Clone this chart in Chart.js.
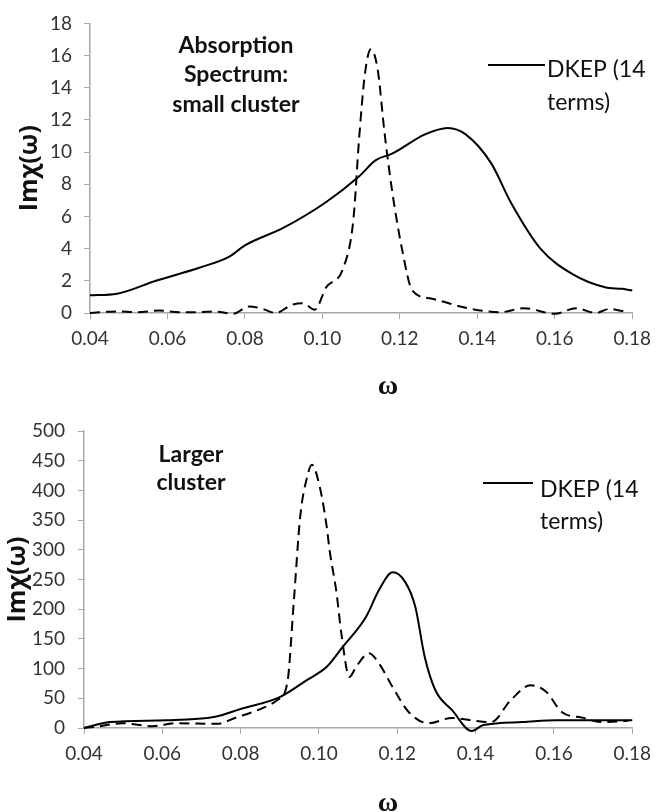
<!DOCTYPE html>
<html>
<head>
<meta charset="utf-8">
<script src="https://cdn.jsdelivr.net/npm/chart.js@4"></script>
<style>
html,body{margin:0;padding:0;background:#fff;}
#w1{position:absolute;left:0;top:0;width:659px;height:400px;}
#w2{position:absolute;left:0;top:400px;width:659px;height:412px;}
</style>
</head>
<body>
<div id="w1"><canvas id="c1"></canvas></div>
<div id="w2"><canvas id="c2"></canvas></div>
<script>
// ---------- Data: small cluster ----------
const smallSolidOmega = [0.040,0.047,0.057,0.068,0.076,0.080,0.090,0.101,0.1095,0.1138,0.118,0.1265,0.1324,0.137,0.1436,0.1487,0.1563,0.1647,0.173,0.1775,0.180];
const smallSolidValues = [1.1,1.2,2.0,2.8,3.5,4.2,5.3,6.9,8.5,9.5,9.9,11.1,11.5,11.1,9.3,6.85,4.0,2.4,1.6,1.5,1.4];
const smallDashOmega = [0.040,0.047,0.052,0.058,0.063,0.068,0.072,0.077,0.081,0.084,0.088,0.092,0.095,0.098,0.101,0.1054,0.108,0.1095,0.111,0.1125,0.1143,0.116,0.118,0.1207,0.1232,0.128,0.1375,0.146,0.152,0.160,0.1655,0.1706,0.174,0.178];
const smallDashValues = [0,0.1,0.05,0.15,0.05,0.05,0.1,-0.05,0.4,0.3,0,0.5,0.6,0.2,1.6,2.8,5.8,10.9,14.9,16.4,15.1,11.3,7.6,3.8,1.4,0.9,0.3,0.05,0.3,-0.05,0.3,0,0.25,0.1];

// ---------- Data: larger cluster ----------
const largeSolidOmega = [0.040,0.0466,0.061,0.0735,0.080,0.090,0.097,0.102,0.106,0.112,0.1153,0.1188,0.122,0.1246,0.127,0.1297,0.134,0.139,0.142,0.152,0.1606,0.180];
const largeSolidValues = [0,10,13,19,32,52,81,103,136,187,232,262,246,204,120,64,30,-5,5,10,13,13];
const largeDashOmega = [0.040,0.043,0.0498,0.0575,0.0634,0.074,0.079,0.0843,0.0894,0.0919,0.0936,0.0952,0.097,0.0982,0.1002,0.102,0.1027,0.1045,0.1057,0.1078,0.1095,0.1128,0.1153,0.1188,0.1229,0.128,0.134,0.139,0.144,0.149,0.154,0.158,0.162,0.1675,0.172,0.179];
const largeDashValues = [0,2,8,3,8,7,18,30,47,75,215,355,423,443,406,338,300,227,160,86,103,126,109,69,27,8,17,13,10,47,72,61,27,17,10,12];

// ---------- Tick settings ----------
const xTickMin = 0.04, xTickMax = 0.18, xTickStep = 0.02;
const smallYMax = 18, smallYStep = 2;
const largeYMax = 500, largeYStep = 50;

// ---------- Text ----------
const yTitle = 'Imχ(ω)';
const xTitle = 'ω';
const legendLines = ['DKEP (14', 'terms)'];
const smallLabel = ['Absorption', 'Spectrum:', 'small cluster'];
const largeLabel = ['Larger', 'cluster'];

Chart.defaults.font.family = 'Lato, "Open Sans", sans-serif';

function pts(xs, ys){ return xs.map((x,i)=>({x:x, y:ys[i]})); }

function annotPlugin(cfg){
  return {
    id:'annot',
    afterDraw(chart){
      const ctx = chart.ctx;
      ctx.save();
      ctx.fillStyle = '#111';
      ctx.textAlign = 'center';
      ctx.textBaseline = 'alphabetic';
      ctx.font = 'bold 23px Lato, sans-serif';
      cfg.label.forEach((t,i)=>ctx.fillText(t, cfg.labelX, cfg.labelY[i]));
      // legend
      ctx.strokeStyle = '#000';
      ctx.lineWidth = 2;
      ctx.beginPath();
      ctx.moveTo(cfg.legLine[0], cfg.legLine[2]);
      ctx.lineTo(cfg.legLine[1], cfg.legLine[2]);
      ctx.stroke();
      ctx.textAlign = 'left';
      ctx.font = '23px Lato, sans-serif';
      legendLines.forEach((t,i)=>ctx.fillText(t, cfg.legX, cfg.legY[i]));
      // x title
      ctx.textAlign = 'center';
      ctx.textBaseline = 'middle';
      ctx.font = 'bold 28px "Liberation Serif", serif';
      ctx.fillText(xTitle, cfg.wX, cfg.wY);
      ctx.restore();
    }
  };
}

function makeChart(id, solid, dash, yMax, yStep, area, yTitlePad, tickPadY, annot){
  const axisColor = '#a8a8a8';
  return new Chart(document.getElementById(id), {
    type:'line',
    data:{datasets:[
      {data:solid, borderColor:'#000', borderWidth:2, pointRadius:0, cubicInterpolationMode:'monotone', fill:false, clip:false},
      {data:dash, borderColor:'#000', borderWidth:2, borderDash:[10,6], pointRadius:0, cubicInterpolationMode:'monotone', fill:false, clip:false}
    ]},
    options:{
      responsive:true, maintainAspectRatio:false, animation:false,
      layout:{padding:{left:0, right:area.padRight, top:area.top, bottom:0}},
      plugins:{legend:{display:false}, tooltip:{enabled:false}},
      scales:{
        x:{type:'linear', min:xTickMin, max:xTickMax,
          afterFit(s){ s.height = area.xHeight; },
          ticks:{stepSize:xTickStep, padding:8, color:'#333', font:{size:19}, maxRotation:0,
            callback:(v)=>Number(v).toFixed(2)},
          grid:{drawOnChartArea:false, tickLength:6, color:axisColor},
          border:{color:axisColor, width:1.5}
        },
        y:{min:0, max:yMax,
          afterFit(s){ s.width = area.yWidth; },
          ticks:{stepSize:yStep, padding:tickPadY, color:'#333', font:{size:19}},
          grid:{drawOnChartArea:false, tickLength:6, color:axisColor},
          border:{color:axisColor, width:1.5},
          title:{display:true, text:yTitle, color:'#111', font:{family:'"Open Sans", Lato, sans-serif', size:25, weight:'bold'}, padding:{top:yTitlePad, bottom:0}}
        }
      }
    },
    plugins:[annotPlugin(annot)]
  });
}

makeChart('c1', pts(smallSolidOmega, smallSolidValues), pts(smallDashOmega, smallDashValues),
  smallYMax, smallYStep,
  {top:16, padRight:19, xHeight:87, yWidth:90}, 15, 12,
  {label:smallLabel, labelX:236, labelY:[53,82,112], legLine:[488,545,65], legX:547, legY:[77,110], wX:388, wY:387});

makeChart('c2', pts(largeSolidOmega, largeSolidValues), pts(largeDashOmega, largeDashValues),
  largeYMax, largeYStep,
  {top:31, padRight:19, xHeight:84, yWidth:84}, 3, 13,
  {label:largeLabel, labelX:191, labelY:[62,90], legLine:[483,533,83], legX:540, legY:[97,129], wX:388, wY:404});
</script>
</body>
</html>
